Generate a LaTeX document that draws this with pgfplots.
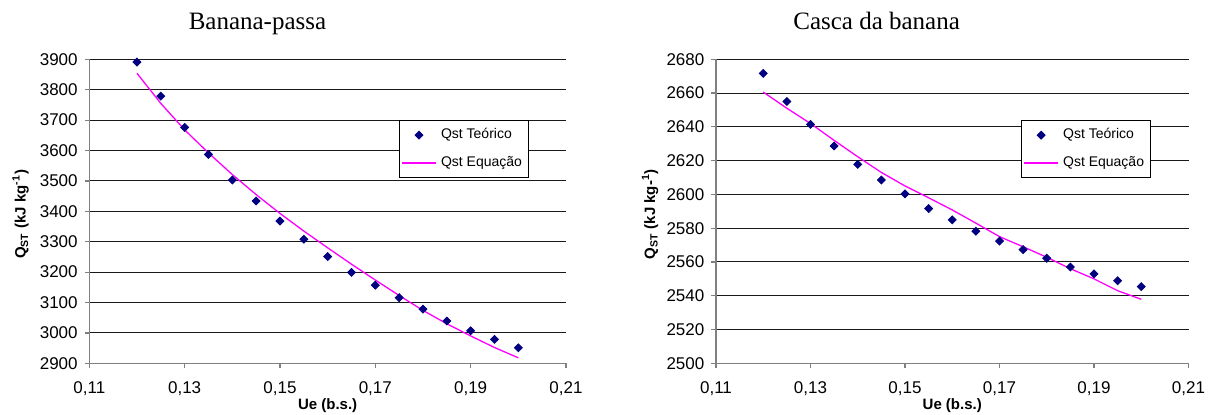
\documentclass[border=0pt]{standalone}
\usepackage{fontspec}
\setmainfont{Liberation Sans}
\newfontfamily\timesfont{Liberation Serif}
\usepackage{pgfplots}
\pgfplotsset{compat=1.18}

\definecolor{ptnavy}{HTML}{000080}
\definecolor{eqmag}{HTML}{FF00FF}

\pgfplotsset{
  qstpanel/.style={
    scale only axis, height=152pt,
    font=\fontsize{8.5}{10}\selectfont,
    axis lines=left, axis line style={-, black!50, line width=0.6pt},
    tick align=outside, major tick length=2.3pt,
    tick style={black!50, line width=0.6pt},
    ymajorgrids, grid style={black!90, line width=0.5pt},
    xmin=0.11, xmax=0.21, xtick={0.11,0.13,...,0.21},
    /pgf/number format/assume math mode=true,
    xticklabel style={yshift=-3.2pt, /pgf/number format/.cd, use comma, fixed, fixed zerofill, precision=2},
    yticklabel style={/pgf/number format/.cd, 1000 sep={}},
    xlabel={\bfseries\fontsize{7.5}{9}\selectfont Ue (b.s.)},
    xlabel style={at={(axis description cs:0.5,-0.138)}, anchor=center},
    every axis title shift=0pt,
    title style={font=\timesfont\fontsize{12.5}{14}\selectfont, anchor=base},
    legend style={fill=white, draw=black,
                  font=\fontsize{7}{8}\selectfont, anchor=north west,
                  inner xsep=1pt, inner ysep=2pt, row sep=3.5pt},
    legend cell align=left,
  },
  eqline/.style={eqmag, line width=0.65pt, no marks,
    legend image post style={line width=0.9pt}},
  ptmarks/.style={only marks, mark=square*, mark size=1.4pt, ptnavy,
    mark options={rotate=45, fill=ptnavy, draw=ptnavy}},
}

\begin{document}
\begin{tikzpicture}
\path[use as bounding box] (0,0) rectangle (605.5pt,207pt);

% Banana-passa
\begin{axis}[qstpanel, width=238.35pt,
  at={(44.65pt,25.35pt)}, anchor=south west,
  ymin=2900, ymax=3900, ytick={2900,3000,...,3900},
  title={Banana-passa},
  title style={at={(axis description cs:0.3528,1.0987)}},
  ylabel={\bfseries\fontsize{7.5}{9}\selectfont Q\textsubscript{ST} (kJ kg\textsuperscript{-1})},
  ylabel style={at={(axis description cs:-0.1439,0.49)}, anchor=center},
  legend style={at={(axis description cs:0.649,0.800)}},
]
\addplot[ptmarks] coordinates {
 (0.120,3891) (0.125,3779) (0.130,3676) (0.135,3587) (0.140,3503)
 (0.145,3434) (0.150,3368) (0.155,3308) (0.160,3251) (0.165,3199)
 (0.170,3157) (0.175,3116) (0.180,3078) (0.185,3039) (0.190,3007)
 (0.195,2979) (0.200,2951)};
\addlegendentry{Qst Teórico}
\addplot[eqline] coordinates {
 (0.120,3854) (0.125,3755) (0.130,3668) (0.135,3592) (0.140,3521)
 (0.145,3455) (0.150,3393) (0.155,3335) (0.160,3280) (0.165,3226)
 (0.170,3174) (0.175,3123) (0.180,3074) (0.185,3030) (0.190,2990)
 (0.195,2952) (0.200,2918)};
\addlegendentry{Qst Equação}
\end{axis}

% Casca da banana
\begin{axis}[qstpanel, width=236.25pt,
  at={(358pt,25.35pt)}, anchor=south west,
  ymin=2500, ymax=2680, ytick={2500,2520,...,2680},
  title={Casca da banana},
  title style={at={(axis description cs:0.340,1.0987)}},
  ylabel={\bfseries\fontsize{7.5}{9}\selectfont Q\textsubscript{ST} (kJ kg-\textsuperscript{1})},
  ylabel style={at={(axis description cs:-0.1397,0.49)}, anchor=center},
  legend style={at={(axis description cs:0.645,0.800)}},
]
\addplot[ptmarks] coordinates {
 (0.120,2671.7) (0.125,2655.0) (0.130,2641.5) (0.135,2628.7) (0.140,2617.8)
 (0.145,2608.5) (0.150,2600.3) (0.155,2591.6) (0.160,2584.9) (0.165,2578.2)
 (0.170,2572.4) (0.175,2567.3) (0.180,2562.2) (0.185,2557.0) (0.190,2553.0)
 (0.195,2548.9) (0.200,2545.4)};
\addlegendentry{Qst Teórico}
\addplot[eqline] coordinates {
 (0.120,2660.6) (0.125,2651.0) (0.130,2642.0) (0.135,2632.0) (0.140,2622.3)
 (0.145,2613.0) (0.150,2605.0) (0.155,2598.0) (0.160,2590.8) (0.165,2583.0)
 (0.170,2575.0) (0.175,2569.0) (0.180,2562.8) (0.185,2556.0) (0.190,2550.0)
 (0.195,2543.0) (0.200,2537.9)};
\addlegendentry{Qst Equação}
\end{axis}
\end{tikzpicture}
\end{document}
